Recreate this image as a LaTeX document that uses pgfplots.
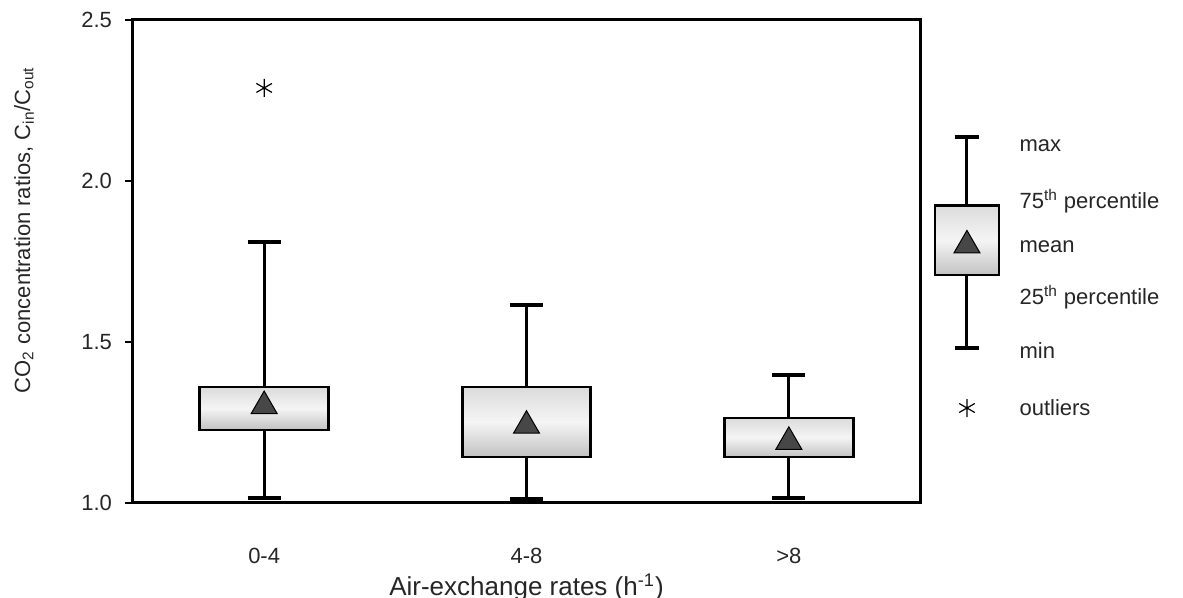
\documentclass[border=0pt]{standalone}
\usepackage{fontspec}
\setmainfont{Liberation Sans}
\usepackage{pgfplots}
\pgfplotsset{compat=1.18}
\begin{document}
\begin{tikzpicture}
\begin{axis}[
  scale only axis, width=393.5pt, height=241.5pt,
  xmin=-0.5, xmax=2.5, ymin=1.0, ymax=2.5,
  clip=false,
  unbounded coords=jump,
  axis line style={line width=1.5pt},
  xtick={0,1,2}, xticklabels={0-4,4-8,\textgreater 8},
  xtick pos=bottom, ytick pos=left,
  xtick style={draw=none},
  ytick={1.0,1.5,2.0,2.5},
  ytick style={line width=0.8pt, black},
  tick align=outside, major tick length=4pt,
  ticklabel style={font=\fontsize{11}{13}\selectfont, text=black!85},
  yticklabel style={/pgf/number format/fixed, /pgf/number format/fixed zerofill, /pgf/number format/precision=1, /pgf/number format/assume math mode=true, xshift=-3pt},
  xticklabel style={yshift=-15pt},
  xlabel={Air-exchange rates (h\textsuperscript{-1})},
  xlabel style={at={(axis description cs:0.5,-0.1905)}, anchor=base, font=\fontsize{13}{15}\selectfont, text=black!85},
  ylabel={CO\textsubscript{2} concentration ratios, C\textsubscript{in}/C\textsubscript{out}},
  ylabel style={at={(axis description cs:-0.1385,0.565)}, anchor=center, font=\fontsize{11}{13}\selectfont, text=black!85},
  whisk/.style={black, line width=1.5pt, mark=none},
  cap/.style={black, line width=2.1pt, mark=none},
  bx/.style={draw=black, line width=1.4pt, mark=none, top color=gray!28, bottom color=gray!48, middle color=gray!8},
]
\coordinate (sw) at (rel axis cs:0,0);
\coordinate (ne) at (rel axis cs:1,1);
% whisker stems
\addplot[whisk] coordinates {
 (0,1.360) (0,1.811) (0,nan)
 (0,1.015) (0,1.227) (0,nan)
 (1,1.360) (1,1.615) (1,nan)
 (1,1.013) (1,1.143) (1,nan)
 (2,1.264) (2,1.398) (2,nan)
 (2,1.016) (2,1.143) (2,nan)
 (2.679,1.925) (2.679,2.137) (2.679,nan)
 (2.679,1.481) (2.679,1.708)
};
% whisker caps
\addplot[cap] coordinates {
 (-0.063,1.811) (0.063,1.811) (0,nan)
 (-0.063,1.015) (0.063,1.015) (0,nan)
 (0.937,1.615) (1.063,1.615) (1,nan)
 (0.937,1.013) (1.063,1.013) (1,nan)
 (1.937,1.398) (2.063,1.398) (2,nan)
 (1.937,1.016) (2.063,1.016) (2,nan)
 (2.6315,2.137) (2.7265,2.137) (2.679,nan)
 (2.6315,1.481) (2.7265,1.481)
};
% boxes (quartiles)
\addplot[bx] coordinates {(-0.245,1.227) (0.245,1.227) (0.245,1.360) (-0.245,1.360)} -- cycle;
\addplot[bx] coordinates {(0.755,1.143) (1.245,1.143) (1.245,1.360) (0.755,1.360)} -- cycle;
\addplot[bx] coordinates {(1.755,1.143) (2.245,1.143) (2.245,1.264) (1.755,1.264)} -- cycle;
\addplot[bx] coordinates {(2.557,1.708) (2.801,1.708) (2.801,1.925) (2.557,1.925)} -- cycle;
% means
\addplot[only marks, mark=triangle*, mark size=7.5pt, mark options={fill=black!72, draw=black, line width=0.5pt}] coordinates {(0,1.301) (1,1.240) (2,1.19) (2.679,1.80)};
% outliers
\addplot[only marks, mark=asterisk, mark size=4.5pt, mark options={line width=0.6pt, black}] coordinates {(0,2.289) (2.679,1.295)};
% legend text
\begin{scope}[every node/.style={anchor=west, inner sep=0pt, font=\fontsize{11}{13}\selectfont, text=black!85}]
\node at (axis cs:2.878,2.109) {max};
\node at (axis cs:2.878,1.938) {75\textsuperscript{th} percentile};
\node at (axis cs:2.878,1.795) {mean};
\node at (axis cs:2.878,1.640) {25\textsuperscript{th} percentile};
\node at (axis cs:2.878,1.475) {min};
\node at (axis cs:2.878,1.295) {outliers};
\end{scope}
\end{axis}
\pgfresetboundingbox
\path ([shift={(-66.5pt,-47.5pt)}]sw) rectangle ([shift={(131.5pt,10pt)}]ne);
\end{tikzpicture}
\end{document}
